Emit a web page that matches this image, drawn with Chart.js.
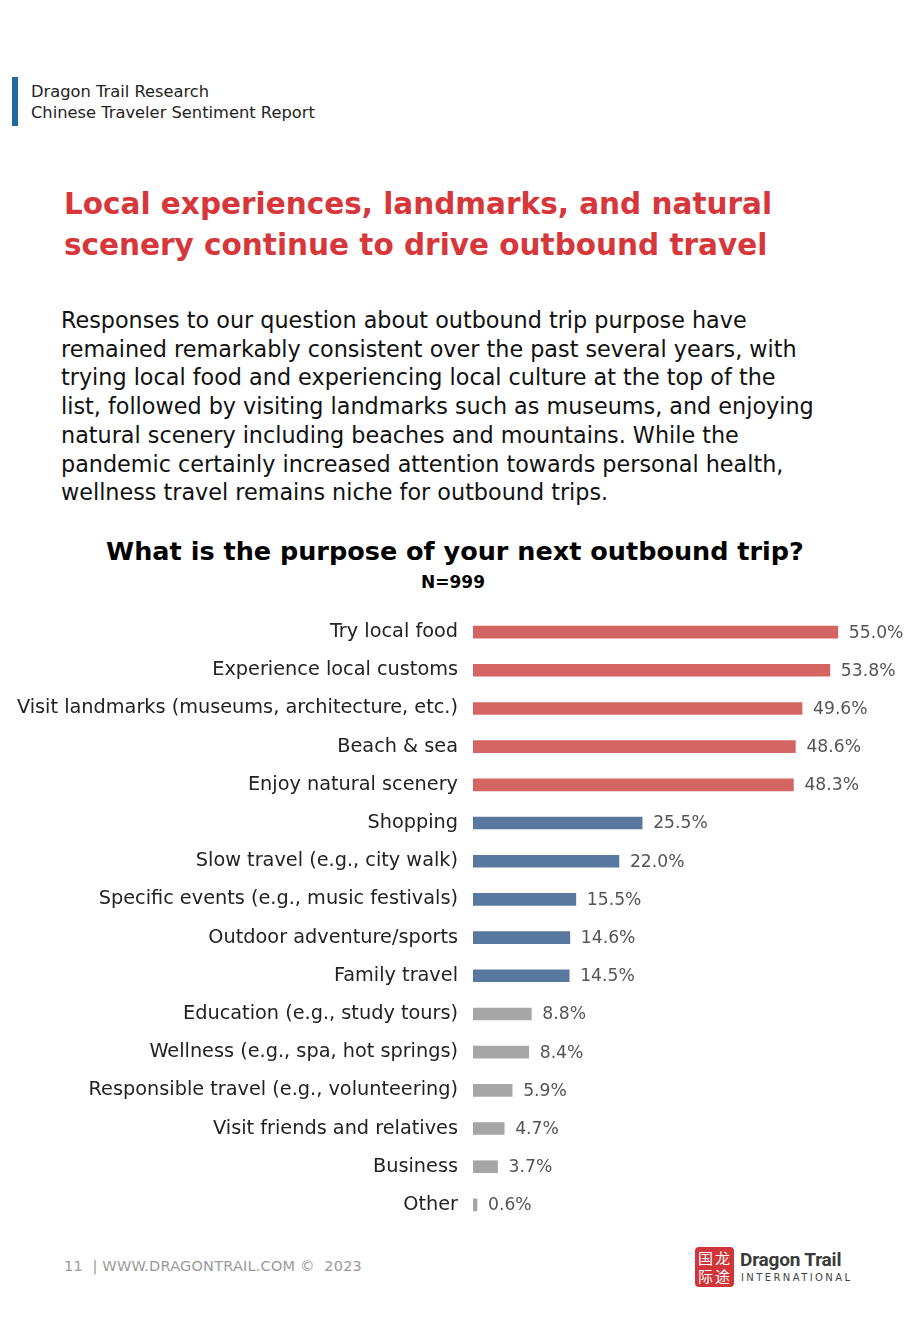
<!DOCTYPE html>
<html>
<head>
<meta charset="utf-8">
<script src="https://cdn.jsdelivr.net/npm/chart.js@4"></script>
<style>
  html, body { margin:0; padding:0; background:#fff; }
  body { width:920px; height:1329px; position:relative; overflow:hidden; font-family:"DejaVu Sans", sans-serif; }
  .abs { position:absolute; white-space:nowrap; }
  #hbar { left:12px; top:77px; width:6px; height:49px; background:#1F6BA1; }
  #hdr { left:31px; top:81px; font-size:16.3px; line-height:21px; color:#222; }
  #title { left:64px; top:184px; font-size:29.5px; line-height:41px; font-weight:bold; color:#D7373A; }
  #body { left:61px; top:306px; font-size:22.3px; line-height:28.7px; color:#111; }
  #ctitle { left:0; width:910px; text-align:center; top:536px; font-size:25.5px; font-weight:bold; color:#000; }
  #n { left:0; width:906px; text-align:center; top:572px; font-size:17px; font-weight:bold; color:#000; }
  #chartwrap { left:0; top:600px; width:920px; height:630px; }
  #c { display:block; }
  #foot { left:64px; top:1258px; font-size:14.5px; color:#9a9a9a; letter-spacing:0.2px; }
  #logo { left:695px; top:1247px; width:39px; height:40px; background:#D0353A; border-radius:4px; color:#fff; font-family:"Noto Sans CJK SC"; font-size:15px; line-height:18px; text-align:center; }
  #logo span { position:absolute; }
  #lt1 { left:740px; top:1248px; font-size:19px; font-weight:bold; color:#3a3a3a; font-family:Roboto, sans-serif; letter-spacing:-0.2px; }
  #lt2 { left:741px; top:1272px; font-size:10px; letter-spacing:2.4px; color:#444; }
</style>
</head>
<body>
<div id="hbar" class="abs"></div>
<div id="hdr" class="abs">Dragon Trail Research<br>Chinese Traveler Sentiment Report</div>
<div id="title" class="abs">Local experiences, landmarks, and natural<br>scenery continue to drive outbound travel</div>
<div id="body" class="abs">Responses to our question about outbound trip purpose have<br>remained remarkably consistent over the past several years, with<br>trying local food and experiencing local culture at the top of the<br>list, followed by visiting landmarks such as museums, and enjoying<br>natural scenery including beaches and mountains. While the<br>pandemic certainly increased attention towards personal health,<br>wellness travel remains niche for outbound trips.</div>
<div id="ctitle" class="abs">What is the purpose of your next outbound trip?</div>
<div id="n" class="abs">N=999</div>
<div id="chartwrap" class="abs"><canvas id="c" width="920" height="630"></canvas></div>
<div id="foot" class="abs">11&nbsp; | WWW.DRAGONTRAIL.COM ©&nbsp; 2023</div>
<div id="logo" class="abs"><span style="left:3px;top:2px">国</span><span style="left:20px;top:2px">龙</span><span style="left:3px;top:20px">际</span><span style="left:20px;top:20px">途</span></div>
<div id="lt1" class="abs">Dragon Trail</div>
<div id="lt2" class="abs">INTERNATIONAL</div>
<script>
const categories = [
  "Try local food",
  "Experience local customs",
  "Visit landmarks (museums, architecture, etc.)",
  "Beach & sea",
  "Enjoy natural scenery",
  "Shopping",
  "Slow travel (e.g., city walk)",
  "Specific events (e.g., music festivals)",
  "Outdoor adventure/sports",
  "Family travel",
  "Education (e.g., study tours)",
  "Wellness (e.g., spa, hot springs)",
  "Responsible travel (e.g., volunteering)",
  "Visit friends and relatives",
  "Business",
  "Other"
];
const values = [55.0, 53.8, 49.6, 48.6, 48.3, 25.5, 22.0, 15.5, 14.6, 14.5, 8.8, 8.4, 5.9, 4.7, 3.7, 0.6];
const groups = ["top","top","top","top","top","mid","mid","mid","mid","mid","low","low","low","low","low","low"];
const groupColors = { top:"#D46562", mid:"#58789F", low:"#A6A6A6" };

const valueLabels = {
  id:"valueLabels",
  afterDatasetsDraw(chart){
    const ctx = chart.ctx;
    const meta = chart.getDatasetMeta(0);
    ctx.save();
    ctx.font = '17.2px "DejaVu Sans", sans-serif';
    ctx.fillStyle = "#555";
    ctx.textBaseline = "middle";
    ctx.textAlign = "left";
    meta.data.forEach((bar,i)=>{
      ctx.fillText(values[i].toFixed(1)+"%", bar.x + 11, bar.y + 1);
    });
    ctx.restore();
  }
};

new Chart(document.getElementById("c"), {
  type:"bar",
  data:{
    labels:categories,
    datasets:[{
      data:values,
      backgroundColor:groups.map(g=>groupColors[g]),
      barThickness:12,
      borderWidth:0
    }]
  },
  options:{
    indexAxis:"y",
    responsive:false,
    animation:false,
    devicePixelRatio:1,
    layout:{ padding:{ top:13, bottom:6, left:0, right:49 } },
    plugins:{ legend:{display:false}, tooltip:{enabled:false} },
    scales:{
      x:{ display:false, min:0, max:60 },
      y:{
        grid:{ display:false, drawTicks:false },
        border:{ display:false },
        ticks:{ padding:15, color:"#222", font:{ family:"DejaVu Sans", size:19.3 } },
        afterFit(scale){ scale.width = 473; scale.paddingTop = 0; scale.paddingBottom = 0; }
      }
    }
  },
  plugins:[valueLabels]
});
</script>
</body>
</html>
